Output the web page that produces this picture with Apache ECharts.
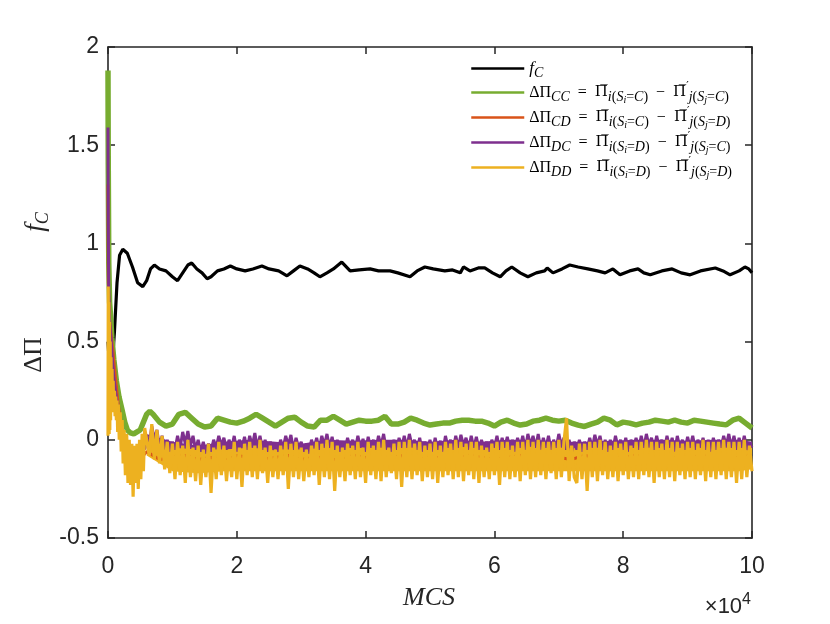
<!DOCTYPE html>
<html><head><meta charset="utf-8">
<script src="https://cdn.jsdelivr.net/npm/echarts@6/dist/echarts.min.js"></script>
<style>html,body{margin:0;padding:0;background:#fff}#c{width:830px;height:624px}</style>
</head><body><div id="c"></div><script>
// x in units of 10^4 MCS
const xTicks = [0, 2, 4, 6, 8, 10];
const yTicks = [-0.5, 0, 0.5, 1, 1.5, 2];

const fcData = [[0,0.5],[0.03,0.33],[0.06,0.36],[0.1,0.55],[0.14,0.8],[0.18,0.94],[0.23,0.97],[0.3,0.95],[0.38,0.88],[0.46,0.8],[0.54,0.78],[0.6,0.81],[0.66,0.87],[0.72,0.89],[0.8,0.87],[0.9,0.86],[1.0,0.83],[1.08,0.81],[1.16,0.85],[1.24,0.89],[1.3,0.9],[1.38,0.87],[1.46,0.85],[1.54,0.82],[1.6,0.83],[1.7,0.86],[1.8,0.87],[1.9,0.885],[2.0,0.87],[2.13,0.86],[2.25,0.87],[2.39,0.885],[2.5,0.87],[2.65,0.86],[2.78,0.835],[2.88,0.86],[2.98,0.885],[3.1,0.87],[3.2,0.85],[3.29,0.83],[3.4,0.85],[3.5,0.87],[3.63,0.905],[3.76,0.86],[3.9,0.865],[4.07,0.87],[4.2,0.86],[4.38,0.86],[4.5,0.85],[4.69,0.83],[4.8,0.86],[4.92,0.88],[5.05,0.87],[5.23,0.86],[5.35,0.865],[5.47,0.85],[5.52,0.88],[5.62,0.86],[5.75,0.875],[5.85,0.875],[5.97,0.85],[6.09,0.83],[6.18,0.86],[6.27,0.88],[6.4,0.85],[6.52,0.83],[6.65,0.85],[6.78,0.86],[6.82,0.875],[6.91,0.85],[7.05,0.87],[7.17,0.89],[7.3,0.88],[7.45,0.87],[7.6,0.86],[7.72,0.85],[7.84,0.87],[7.95,0.84],[8.1,0.86],[8.23,0.87],[8.32,0.85],[8.42,0.84],[8.6,0.86],[8.76,0.87],[8.9,0.85],[9.04,0.84],[9.2,0.86],[9.43,0.875],[9.55,0.86],[9.66,0.84],[9.8,0.86],[9.89,0.88],[9.95,0.87],[10,0.85]];

const ccEarly = [[0,1.88],[0.004,1.4],[0.012,0.9],[0.025,0.7],[0.04,0.63],[0.06,0.52],[0.09,0.41],[0.13,0.3],[0.17,0.22],[0.22,0.15],[0.26,0.09],[0.3,0.05],[0.35,0.035],[0.4,0.03],[0.45,0.04],[0.5,0.05],[0.55,0.09],[0.6,0.13],[0.65,0.145],[0.7,0.13]];
const ccTailStart = 0.8, ccTailStep = 0.1;
const ccTail = [0.09,0.07,0.08,0.13,0.14,0.11,0.08,0.065,0.07,0.11,0.10,0.09,0.085,0.095,0.11,0.13,0.11,0.09,0.07,0.09,0.11,0.115,0.09,0.07,0.065,0.10,0.10,0.12,0.10,0.08,0.09,0.10,0.095,0.095,0.10,0.12,0.08,0.08,0.09,0.11,0.10,0.085,0.075,0.08,0.085,0.085,0.095,0.10,0.10,0.095,0.095,0.085,0.07,0.09,0.10,0.085,0.075,0.08,0.095,0.10,0.11,0.10,0.095,0.10,0.085,0.075,0.068,0.08,0.09,0.11,0.10,0.076,0.09,0.085,0.076,0.085,0.09,0.10,0.095,0.09,0.10,0.09,0.085,0.10,0.095,0.09,0.085,0.08,0.076,0.10,0.11,0.085,0.06];

const cdEarly = [[0,1.3],[0.005,0.8],[0.02,0.62],[0.04,0.56],[0.06,0.5],[0.08,0.44],[0.1,0.37],[0.13,0.27],[0.16,0.18],[0.2,0.08],[0.25,-0.02],[0.3,-0.08],[0.4,-0.1],[0.5,-0.1],[0.6,-0.06]];
const cdTailStart = 0.8, cdTailStep = 0.2;
const cdTail = [-0.1,-0.09,-0.08,-0.1,-0.09,-0.11,-0.08,-0.09,-0.1,-0.09,-0.08,-0.1,-0.09,-0.09,-0.11,-0.08,-0.09,-0.1,-0.09,-0.08,-0.1,-0.09,-0.09,-0.1,-0.08,-0.09,-0.1,-0.09,-0.08,-0.1,-0.09,-0.09,-0.1,-0.08,-0.09,-0.1,-0.09,-0.08,-0.1,-0.09,-0.09,-0.1,-0.08,-0.09,-0.1,-0.09,-0.08];

const dcEarly = [[0,1.59],[0.004,1.1],[0.012,0.75],[0.025,0.6],[0.05,0.5],[0.07,0.4],[0.09,0.32],[0.12,0.24],[0.15,0.17],[0.18,0.11],[0.21,0.07],[0.24,0.03],[0.27,0.0],[0.3,-0.02],[0.33,-0.05],[0.36,-0.03],[0.39,-0.07],[0.42,-0.04],[0.45,-0.08],[0.48,-0.05],[0.51,-0.07],[0.54,-0.03],[0.57,-0.05]];
const dcTailStart = 0.6, dcTailStep = 0.04;
const dcTail = [
0.02,-0.03,0.07,0.0,0.05,-0.04,0.02,-0.05,0.0,-0.06,
-0.01,-0.05,0.02,-0.04,0.04,-0.02,0.045,-0.03,0.02,-0.05,
0.0,-0.06,-0.01,-0.07,-0.02,-0.06,0.0,-0.04,0.02,-0.03,
0.01,-0.05,0.0,-0.04,0.02,-0.06,0.0,-0.04,0.015,-0.05,
0.02,-0.03,0.035,-0.04,0.02,-0.05,0.0,-0.06,-0.01,-0.05,
-0.02,-0.06,0.0,-0.04,0.02,-0.03,0.025,-0.05,0.01,-0.04,
-0.01,-0.06,-0.02,-0.07,0.0,-0.04,0.01,-0.05,0.02,-0.03,
0.03,-0.04,0.015,-0.05,0.0,-0.06,-0.01,-0.05,0.01,-0.04,
0.0,-0.05,0.02,-0.04,0.005,-0.06,0.015,-0.04,0.0,-0.05,
0.02,-0.03,0.03,-0.05,-0.01,-0.06,0.0,-0.05,0.01,-0.04,
0.02,-0.04,0.03,-0.03,0.0,-0.05,0.01,-0.06,-0.01,-0.05,
0.0,-0.06,0.01,-0.05,-0.005,-0.06,0.02,-0.04,0.0,-0.05,
0.02,-0.04,0.025,-0.03,0.01,-0.05,0.02,-0.04,0.015,-0.05,
0.0,-0.05,-0.01,-0.06,0.0,-0.04,0.02,-0.05,0.01,-0.04,
0.015,-0.05,0.0,-0.06,0.01,-0.04,0.02,-0.05,0.03,-0.03,
0.02,-0.04,0.03,-0.05,0.01,-0.04,0.02,-0.05,0.0,-0.04,
0.03,-0.03,0.01,-0.05,0.0,-0.06,-0.01,-0.05,0.0,-0.06,
-0.01,-0.05,0.01,-0.04,0.025,-0.03,0.02,-0.05,0.0,-0.06,
0.0,-0.05,0.02,-0.04,0.0,-0.05,0.01,-0.06,0.0,-0.04,
0.01,-0.05,0.02,-0.04,0.03,-0.03,0.01,-0.05,0.02,-0.04,
0.0,-0.05,0.02,-0.04,0.01,-0.06,0.02,-0.04,0.0,-0.05,
0.015,-0.04,0.02,-0.05,0.0,-0.04,0.01,-0.05,0.0,-0.06,
0.01,-0.05,0.0,-0.04,0.02,-0.03,0.03,-0.04,0.02,-0.05,
0.01,-0.04,0.02,-0.05,-0.02,-0.04];

const ddEarly = [[0,0.02],[0.004,0.78],[0.008,0.05],[0.013,0.7],[0.018,0.03],[0.023,0.6],[0.028,0.05],[0.034,0.5],[0.04,0.1],[0.047,0.42],[0.055,0.15],[0.063,0.36],[0.07,0.15],[0.08,0.3],[0.09,0.14],[0.1,0.25],[0.11,0.12],[0.12,0.22],[0.13,0.1],[0.14,0.2],[0.15,0.04],[0.16,0.18],[0.175,0.0],[0.19,0.14],[0.205,-0.06],[0.22,0.1],[0.235,-0.12],[0.25,0.05],[0.27,-0.18],[0.29,0.03],[0.31,-0.22],[0.33,0.0],[0.35,-0.23],[0.37,-0.02],[0.39,-0.29],[0.41,-0.03],[0.43,-0.22],[0.45,-0.02],[0.47,-0.25],[0.49,0.0],[0.51,-0.2],[0.53,0.03],[0.55,-0.16],[0.57,0.06]];
const ddTailStart = 0.6, ddTailStep = 0.04;
const ddTail = [
0.06,-0.08,0.08,-0.1,0.05,-0.12,0.02,-0.15,-0.01,-0.17,
-0.02,-0.2,-0.01,-0.18,-0.03,-0.22,0.0,-0.19,-0.04,-0.21,
-0.03,-0.23,-0.05,-0.19,-0.02,-0.27,-0.04,-0.2,-0.01,-0.18,
-0.03,-0.21,-0.05,-0.19,-0.01,-0.2,-0.04,-0.24,-0.02,-0.18,
-0.01,-0.19,-0.03,-0.2,0.0,-0.17,-0.04,-0.22,-0.03,-0.19,
-0.05,-0.2,-0.03,-0.18,-0.01,-0.25,-0.02,-0.19,-0.01,-0.2,
-0.04,-0.21,-0.05,-0.19,-0.03,-0.18,-0.01,-0.23,-0.02,-0.19,
0.0,-0.2,-0.01,-0.26,-0.03,-0.19,-0.04,-0.21,-0.02,-0.18,
-0.03,-0.2,-0.01,-0.19,-0.04,-0.22,-0.01,-0.18,-0.03,-0.2,
-0.01,-0.21,0.0,-0.19,-0.04,-0.17,-0.02,-0.2,-0.01,-0.24,
-0.01,-0.19,0.0,-0.2,-0.02,-0.18,-0.01,-0.21,-0.03,-0.19,
-0.02,-0.2,-0.01,-0.22,-0.03,-0.19,-0.01,-0.18,-0.02,-0.2,
0.0,-0.19,-0.01,-0.21,-0.02,-0.18,-0.01,-0.2,-0.01,-0.22,
-0.03,-0.19,-0.04,-0.2,-0.02,-0.18,-0.01,-0.23,-0.01,-0.19,
-0.01,-0.2,-0.03,-0.19,-0.01,-0.21,-0.01,-0.18,0.0,-0.2,
-0.01,-0.19,0.0,-0.18,-0.01,-0.2,-0.01,-0.17,-0.01,-0.2,
0.0,-0.19,-0.01,0.11,-0.21,-0.03,-0.19,-0.22,-0.02,-0.2,
-0.02,-0.26,-0.01,-0.19,-0.01,-0.21,0.0,-0.18,-0.01,-0.2,
-0.03,-0.19,-0.01,-0.21,-0.02,-0.18,-0.01,-0.2,-0.03,-0.19,
-0.01,-0.2,-0.01,-0.18,0.0,-0.19,-0.01,-0.22,-0.01,-0.19,
-0.02,-0.2,0.0,-0.19,-0.01,-0.21,-0.01,-0.18,-0.02,-0.2,
-0.01,-0.19,-0.01,-0.2,-0.02,-0.18,0.0,-0.21,-0.01,-0.19,
-0.01,-0.2,-0.01,-0.18,0.0,-0.2,-0.01,-0.19,-0.01,-0.22,
-0.01,-0.2,0.0,-0.19,-0.03,-0.16];

// solid cores of the DC and DD bands (upper / lower edges)
const coreX        = [0.6, 1.0, 1.4, 1.8, 2.2, 2.6, 3.0, 3.4, 3.8, 4.2, 4.6, 5.0, 5.4, 5.8, 6.2, 6.6, 7.0, 7.4, 7.8, 8.2, 8.6, 9.0, 9.4, 9.8, 10];
const dcCoreTop    = [0.03,-0.01,-0.03,-0.01,0.0,-0.01,-0.02,0.0,-0.005,0.0,0.0,-0.01,0.0,-0.01,0.0,0.0,-0.01,-0.01,-0.005,0.0,0.0,-0.005,0.0,0.0,-0.01];
const dcCoreBottom = [-0.04,-0.07,-0.07,-0.07,-0.07,-0.07,-0.07,-0.07,-0.07,-0.07,-0.07,-0.07,-0.07,-0.07,-0.07,-0.07,-0.07,-0.07,-0.07,-0.07,-0.07,-0.07,-0.07,-0.07,-0.07];
const ddCoreTop    = [0.02,-0.04,-0.05,-0.05,-0.04,-0.05,-0.05,-0.04,-0.04,-0.04,-0.04,-0.04,-0.035,-0.04,-0.04,-0.035,-0.04,-0.04,-0.04,-0.04,-0.04,-0.04,-0.04,-0.04,-0.04];
const ddCoreBottom = [-0.08,-0.16,-0.17,-0.16,-0.16,-0.16,-0.16,-0.16,-0.16,-0.16,-0.16,-0.16,-0.16,-0.16,-0.16,-0.16,-0.16,-0.16,-0.16,-0.16,-0.16,-0.16,-0.16,-0.16,-0.15];

function build(early, start, step, tail) {
  return early.concat(tail.map((v, i) => [+(start + i * step).toFixed(3), v]));
}

const names = ['fC', 'CC', 'CD', 'DC', 'DD'];
const colors = ['#000000', '#77AC30', '#D95319', '#7E2F8E', '#EDB120'];

const serif = 'Liberation Serif';
const sans = 'Liberation Sans';
const axisColor = '#262626';

function formula(a, b, d) {
  return '{m|ΔΠ}{s|' + a + '}{m|  =  }{o|Π\u0305}{s|i}{sn|(}{s|S}{ss|i}{sn|=}{s|' + b +
    '}{sn|)}{m|  −  }{o|Π\u0305}{p|′}{s|j}{sn|(}{s|S}{ss|j}{sn|=}{s|' + d + '}{sn|)}';
}
const legendText = {
  fC: '{i|f}{s|C}',
  CC: formula('CC', 'C', 'C'),
  CD: formula('CD', 'C', 'D'),
  DC: formula('DC', 'D', 'C'),
  DD: formula('DD', 'D', 'D')
};

function bandSeries(top, bottom, color) {
  return {
    type: 'custom', silent: true, data: [[coreX[0], top[0]]],
    encode: {x: 0, y: 1},
    renderItem: function (params, api) {
      const pts = [];
      for (let i = 0; i < coreX.length; i++) pts.push(api.coord([coreX[i], top[i]]));
      for (let i = coreX.length - 1; i >= 0; i--) pts.push(api.coord([coreX[i], bottom[i]]));
      return {type: 'polygon', shape: {points: pts}, style: {fill: color, stroke: null}};
    }
  };
}

const chart = echarts.init(document.getElementById('c'), null, {renderer: 'canvas'});
const tickStyle = {show: true, inside: true, length: 7, lineStyle: {color: axisColor, width: 1.5}};
const lineStyle = {show: true, onZero: false, lineStyle: {color: axisColor, width: 1.6}};

chart.setOption({
  animation: false,
  backgroundColor: '#ffffff',
  grid: {left: 108, right: 78, top: 47, bottom: 86, containLabel: false},
  xAxis: [
    {type: 'value', min: 0, max: 10, interval: 2, position: 'bottom',
     axisLine: lineStyle, axisTick: tickStyle, splitLine: {show: false},
     axisLabel: {color: axisColor, fontFamily: sans, fontSize: 23, margin: 17}},
    {type: 'value', min: 0, max: 10, interval: 2, position: 'top',
     axisLine: lineStyle, axisTick: tickStyle, splitLine: {show: false}, axisLabel: {show: false}}
  ],
  yAxis: [
    {type: 'value', min: -0.5, max: 2, interval: 0.5, position: 'left',
     axisLine: lineStyle, axisTick: tickStyle, splitLine: {show: false},
     axisLabel: {color: axisColor, fontFamily: sans, fontSize: 23, margin: 9}},
    {type: 'value', min: -0.5, max: 2, interval: 0.5, position: 'right',
     axisLine: lineStyle, axisTick: tickStyle, splitLine: {show: false}, axisLabel: {show: false}}
  ],
  legend: {
    data: names, orient: 'vertical', left: 470, top: 60, padding: 0,
    itemWidth: 53, itemHeight: 12, itemGap: 1,
    itemStyle: {opacity: 0},
    lineStyle: {width: 2.5},
    formatter: n => legendText[n],
    textStyle: {
      color: '#000', fontFamily: serif, fontSize: 16,
      rich: {
        m: {fontFamily: serif, fontSize: 16, color: '#000'},
        o: {fontFamily: 'DejaVu Serif', fontSize: 15, color: '#000'},
        i: {fontFamily: serif, fontStyle: 'italic', fontSize: 17, color: '#000'},
        s: {fontFamily: serif, fontStyle: 'italic', fontSize: 14, color: '#000', padding: [9, 0, 0, 0]},
        sn: {fontFamily: serif, fontSize: 14, color: '#000', padding: [9, 0, 0, 0]},
        ss: {fontFamily: serif, fontStyle: 'italic', fontSize: 10, color: '#000', padding: [15, 0, 0, 0]},
        p: {fontFamily: 'DejaVu Serif', fontSize: 11, color: '#000', padding: [0, 0, 12, 0]}
      }
    }
  },
  graphic: [
    {type: 'text', x: 36, y: 222, rotation: Math.PI / 2,
     style: {text: '{a|f}{b|C}', align: 'center', verticalAlign: 'middle',
       rich: {a: {fontFamily: serif, fontStyle: 'italic', fontSize: 27, fill: '#262626'},
              b: {fontFamily: serif, fontStyle: 'italic', fontSize: 18, fill: '#262626', padding: [14, 0, 0, 0]}}}},
    {type: 'text', x: 34, y: 355, rotation: Math.PI / 2,
     style: {text: 'ΔΠ', align: 'center', verticalAlign: 'middle',
       font: '26px "Liberation Serif"', fill: '#262626'}},
    {type: 'text', x: 429, y: 598,
     style: {text: 'MCS', align: 'center', verticalAlign: 'middle',
       font: 'italic 26px "Liberation Serif"', fill: '#262626'}},
    {type: 'text', x: 751, y: 607,
     style: {text: '{a|×10}{b|4}', align: 'right', verticalAlign: 'middle',
       rich: {a: {fontFamily: sans, fontSize: 22, fill: '#262626'},
              b: {fontFamily: sans, fontSize: 16, fill: '#262626', padding: [0, 0, 14, 0]}}}}
  ],
  series: [
    {name: 'fC', type: 'line', data: fcData, symbol: 'none', color: colors[0], lineStyle: {width: 3.2, color: colors[0]}},
    {name: 'CC', type: 'line', data: build(ccEarly, ccTailStart, ccTailStep, ccTail), symbol: 'none', color: colors[1], lineStyle: {width: 5.5, color: colors[1]}},
    {name: 'CD', type: 'line', data: build(cdEarly, cdTailStart, cdTailStep, cdTail), symbol: 'none', color: colors[2], lineStyle: {width: 3, color: colors[2]}},
    bandSeries(dcCoreTop, dcCoreBottom, colors[3]),
    {name: 'DC', type: 'line', data: build(dcEarly, dcTailStart, dcTailStep, dcTail), symbol: 'none', color: colors[3], lineStyle: {width: 3, color: colors[3]}},
    bandSeries(ddCoreTop, ddCoreBottom, colors[4]),
    {name: 'DD', type: 'line', data: build(ddEarly, ddTailStart, ddTailStep, ddTail), symbol: 'none', color: colors[4], lineStyle: {width: 3.2, color: colors[4]}}
  ]
});
</script></body></html>
